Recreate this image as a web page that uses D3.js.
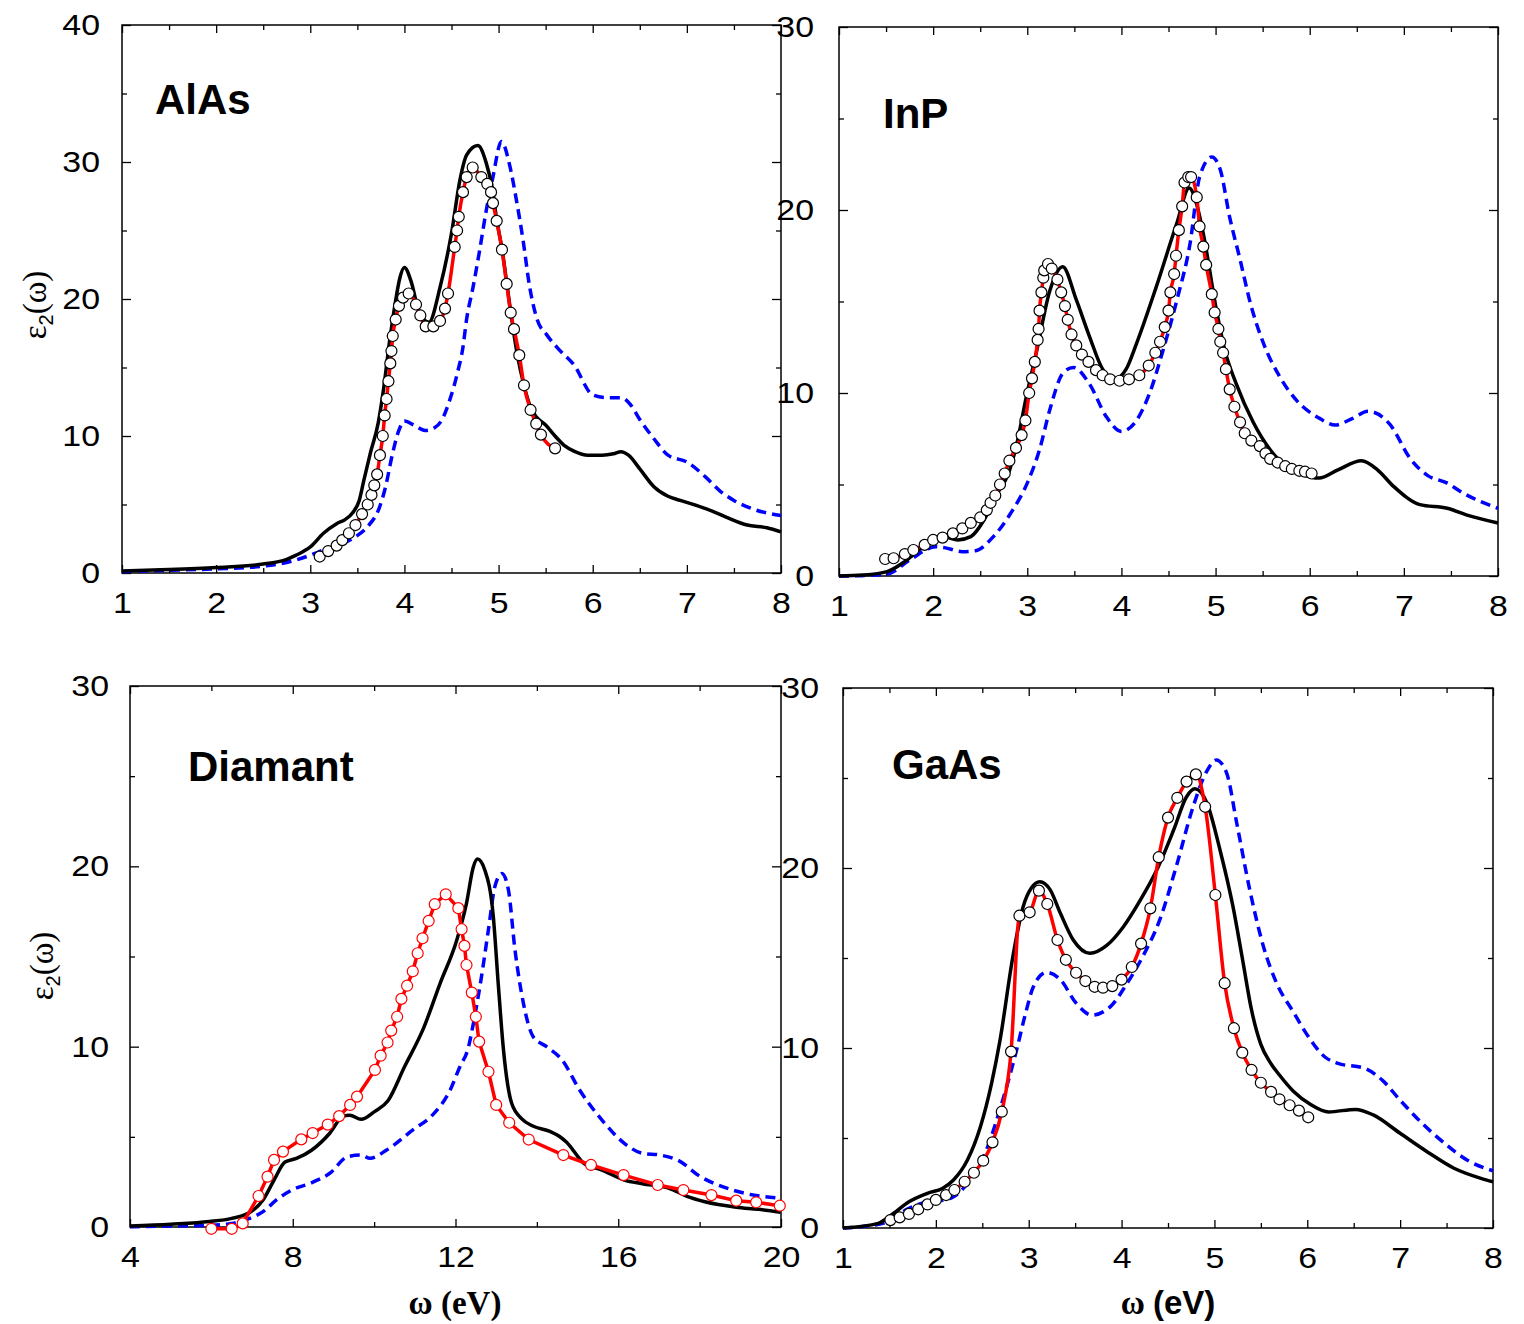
<!DOCTYPE html>
<html><head><meta charset="utf-8">
<script src="https://cdn.jsdelivr.net/npm/d3@7"></script>
<style>
body{margin:0;background:#fff;}
svg{display:block;}
.tick text{font-family:"Liberation Sans",Arial,sans-serif;font-size:30px;fill:#000;}
.tick line{stroke:#000;stroke-width:1.3px;}
</style></head><body>
<script>
// ---- tick values ----
const evTicks = [1, 2, 3, 4, 5, 6, 7, 8];
const evMinor = [1.5, 2.5, 3.5, 4.5, 5.5, 6.5, 7.5];
const diamTicks = [4, 8, 12, 16, 20];
const diamMinor = [6, 10, 14, 18];
const alasYTicks = [0, 10, 20, 30, 40];
const alasYMinor = [5, 15, 25, 35];
const yTicks30 = [0, 10, 20, 30];
const yMinor30 = [5, 15, 25];

// ---- AlAs: [omega (eV), eps2] ----
const alasBlack = [[1,0.15],[1.5,0.25],[2,0.4],[2.5,0.65],[2.75,1.0],[2.85,1.3],[3.0,1.9],[3.14,2.9],[3.28,3.6],[3.37,3.9],[3.45,4.4],[3.52,5.3],[3.57,6.8],[3.64,8.8],[3.72,10.9],[3.78,13.5],[3.84,16.8],[3.9,19.6],[3.95,21.5],[4.0,22.3],[4.07,21.3],[4.15,19.2],[4.26,18.3],[4.38,20.9],[4.5,24.8],[4.59,28.7],[4.66,30.5],[4.78,31.2],[4.87,29.9],[4.93,28.2],[4.98,25.8],[5.04,23.5],[5.09,21.0],[5.13,19.0],[5.2,15.9],[5.27,13.7],[5.34,12.1],[5.4,11.4],[5.5,10.8],[5.6,10.0],[5.7,9.3],[5.8,8.9],[5.95,8.6],[6.1,8.6],[6.22,8.7],[6.3,8.85],[6.38,8.6],[6.5,7.6],[6.65,6.3],[6.8,5.6],[6.93,5.3],[7.2,4.7],[7.41,4.1],[7.64,3.5],[7.85,3.3],[8.0,3.0]];
const alasBlue = [[1,0.1],[1.5,0.2],[2,0.3],[2.5,0.5],[2.85,0.95],[3.0,1.3],[3.15,1.7],[3.33,2.1],[3.47,2.6],[3.61,3.4],[3.73,4.7],[3.8,6.3],[3.87,8.6],[3.94,10.4],[4.0,11.1],[4.1,10.8],[4.22,10.4],[4.32,10.6],[4.4,11.2],[4.48,12.6],[4.57,14.8],[4.62,16.4],[4.66,18.5],[4.73,20.9],[4.8,23.6],[4.87,26.5],[4.94,28.9],[5.03,31.5],[5.12,29.7],[5.19,27.2],[5.26,24.3],[5.33,20.9],[5.41,18.5],[5.51,17.4],[5.63,16.4],[5.8,15.2],[6.0,13.0],[6.15,12.8],[6.3,12.8],[6.4,12.3],[6.5,11.2],[6.65,9.8],[6.8,8.6],[7.0,8.1],[7.2,7.0],[7.35,6.0],[7.5,5.3],[7.69,4.7],[8.0,4.2]];
const alasExp = [[3.10,1.2],[3.19,1.6],[3.28,2.0],[3.34,2.4],[3.41,2.9],[3.48,3.5],[3.55,4.3],[3.61,5.0],[3.65,5.7],[3.68,6.4],[3.71,7.2],[3.74,8.6],[3.77,10.0],[3.79,11.5],[3.81,12.7],[3.83,14.0],[3.85,15.3],[3.862,16.2],[3.876,17.3],[3.907,18.5],[3.942,19.5],[3.985,20.1],[4.045,20.4],[4.123,19.6],[4.169,18.8],[4.226,18.0],[4.307,18.0],[4.378,18.4],[4.431,19.3],[4.463,20.4],[4.534,23.8],[4.559,25.0],[4.577,26.0],[4.622,27.8],[4.661,28.9],[4.725,29.6],[4.817,28.9],[4.88,28.4],[4.92,27.8],[4.941,27.0],[4.98,25.7],[5.036,23.6],[5.086,21.1],[5.129,19.0],[5.164,17.8],[5.22,15.9],[5.27,13.7],[5.34,11.9],[5.40,10.9],[5.45,10.1],[5.6,9.1]];

// ---- InP ----
const inpBlack = [[1,0],[1.25,0.05],[1.51,0.24],[1.7,0.8],[1.89,1.6],[2.05,2.15],[2.15,2.1],[2.26,1.97],[2.4,2.15],[2.54,3.06],[2.68,4.5],[2.8,5.6],[2.89,7.25],[2.99,9.8],[3.1,12.3],[3.24,15.6],[3.376,16.9],[3.52,15.1],[3.66,13.1],[3.8,11.3],[3.93,10.75],[4.05,11.3],[4.16,12.7],[4.37,15.8],[4.59,19.3],[4.72,21.2],[4.8,20.3],[4.87,18.7],[5.01,14.5],[5.1,12.3],[5.22,10.5],[5.4,8.4],[5.58,6.9],[5.75,6.0],[5.9,5.6],[6.1,5.35],[6.3,5.8],[6.55,6.3],[6.72,5.8],[6.89,4.9],[7.17,3.9],[7.46,3.7],[7.69,3.3],[8.0,2.9]];
const inpBlue = [[1,0],[1.25,0.02],[1.51,0.1],[1.75,0.87],[2.03,1.6],[2.12,1.55],[2.31,1.33],[2.45,1.38],[2.64,2.15],[2.82,3.4],[3.01,5.2],[3.13,6.9],[3.24,9.1],[3.38,11.1],[3.49,11.4],[3.66,10.5],[3.84,8.7],[4.0,7.9],[4.16,8.5],[4.3,10.0],[4.44,12.3],[4.59,15.1],[4.73,18.2],[4.83,21.8],[4.96,22.9],[5.05,22.2],[5.15,19.6],[5.26,17.3],[5.37,14.9],[5.51,12.7],[5.68,10.9],[5.86,9.6],[6.11,8.6],[6.27,8.25],[6.45,8.6],[6.62,9.0],[6.85,8.3],[7.07,6.4],[7.25,5.5],[7.45,5.1],[7.64,4.5],[7.8,4.1],[8.0,3.7]];
const inpExp = [[1.49,0.93],[1.58,0.97],[1.70,1.2],[1.79,1.42],[1.91,1.7],[2.00,1.97],[2.10,2.1],[2.21,2.33],[2.31,2.6],[2.40,2.9],[2.50,3.2],[2.57,3.6],[2.61,4.0],[2.66,4.4],[2.71,5.0],[2.76,5.6],[2.81,6.3],[2.88,7.0],[2.94,7.7],[2.98,8.5],[3.02,10.0],[3.05,10.8],[3.08,11.7],[3.11,12.9],[3.12,13.5],[3.13,14.5],[3.15,15.5],[3.17,16.3],[3.18,16.7],[3.22,17.05],[3.26,16.8],[3.32,16.2],[3.36,15.5],[3.40,14.75],[3.43,14.0],[3.47,13.2],[3.52,12.6],[3.58,12.1],[3.65,11.7],[3.73,11.25],[3.80,10.97],[3.88,10.75],[3.98,10.67],[4.08,10.75],[4.19,10.97],[4.29,11.5],[4.36,12.2],[4.41,12.8],[4.46,13.6],[4.50,14.5],[4.52,15.5],[4.56,16.5],[4.58,17.5],[4.61,18.9],[4.645,20.2],[4.67,21.5],[4.71,21.8],[4.74,21.8],[4.80,20.7],[4.83,19.1],[4.87,18.0],[4.90,17.0],[4.96,15.4],[4.99,14.4],[5.03,13.5],[5.05,12.8],[5.08,12.2],[5.11,11.3],[5.15,10.2],[5.20,9.25],[5.26,8.4],[5.31,7.8],[5.38,7.4],[5.47,7.1],[5.53,6.7],[5.58,6.4],[5.66,6.2],[5.74,6.0],[5.81,5.85],[5.89,5.75],[5.95,5.7],[6.02,5.6]];

// ---- Diamant ----
const diamBlack = [[4,0.05],[5,0.15],[5.95,0.3],[6.5,0.48],[6.94,0.8],[7.27,1.5],[7.54,2.6],[7.81,3.6],[8.09,3.8],[8.47,4.27],[8.91,5.2],[9.24,6.15],[9.4,6.2],[9.68,5.97],[10.01,6.4],[10.34,7.0],[10.75,8.9],[11.21,11.0],[11.62,13.5],[12.03,15.9],[12.27,17.95],[12.44,19.98],[12.54,20.4],[12.72,19.8],[12.93,17.2],[13.05,13.5],[13.18,9.8],[13.38,6.86],[13.63,6.0],[13.9,5.6],[14.32,5.3],[14.6,4.95],[14.73,4.7],[15.17,3.5],[15.6,3.16],[16.15,2.6],[16.59,2.4],[17.25,2.15],[17.69,1.7],[18.13,1.4],[18.9,1.1],[19.44,0.98],[19.99,0.82]];
const diamBlue = [[4,0.02],[5,0.05],[6.0,0.1],[6.5,0.2],[6.94,0.48],[7.27,0.85],[7.6,1.5],[7.98,2.05],[8.47,2.46],[8.91,2.98],[9.35,3.9],[9.68,3.99],[9.9,3.81],[10.31,4.27],[10.96,5.4],[11.43,6.2],[11.87,7.6],[12.11,8.9],[12.31,9.9],[12.44,11.3],[12.64,13.9],[12.81,16.5],[12.97,18.9],[13.14,19.6],[13.30,18.7],[13.46,15.4],[13.67,12.4],[13.91,10.55],[14.24,10.0],[14.62,9.26],[15.05,7.6],[15.6,5.93],[16.15,4.64],[16.59,4.09],[17.03,3.99],[17.47,3.7],[18.02,2.79],[18.56,2.24],[19.11,1.87],[19.99,1.59]];
const diamExp = [[6.0,-0.1],[6.5,-0.1],[6.77,0.2],[7.16,1.72],[7.38,2.79],[7.54,3.72],[7.76,4.18],[8.21,4.86],[8.49,5.21],[8.86,5.68],[9.14,6.15],[9.41,6.77],[9.58,7.23],[10.02,8.71],[10.16,9.5],[10.33,10.23],[10.42,10.89],[10.565,11.66],[10.67,12.65],[10.81,13.38],[10.95,14.18],[11.07,15.18],[11.19,16.01],[11.34,16.97],[11.49,17.9],[11.76,18.45],[12.07,17.68],[12.15,16.51],[12.22,15.59],[12.27,14.53],[12.40,13.0],[12.50,11.66],[12.58,10.28],[12.81,8.61],[13.00,6.77],[13.32,5.78],[13.80,4.85],[14.65,3.99],[15.33,3.44],[16.13,2.88],[16.97,2.33],[17.60,2.05],[18.29,1.77],[18.90,1.46],[19.39,1.37],[19.97,1.18]];

// ---- GaAs ----
const gaasBlack = [[1,0],[1.38,0.26],[1.52,0.72],[1.71,1.46],[1.91,1.93],[2.07,2.2],[2.19,2.67],[2.34,3.78],[2.48,5.63],[2.6,8.04],[2.69,10.4],[2.83,15.1],[2.94,17.85],[3.03,18.9],[3.12,19.24],[3.23,18.8],[3.34,17.5],[3.48,16.0],[3.66,15.26],[3.84,15.7],[4.02,16.74],[4.2,18.2],[4.38,19.9],[4.56,22.1],[4.7,23.96],[4.79,24.4],[4.92,23.6],[5.06,21.0],[5.2,17.85],[5.3,15.0],[5.4,12.1],[5.5,10.2],[5.6,9.2],[5.7,8.5],[5.85,7.6],[6.04,6.85],[6.23,6.45],[6.52,6.59],[6.71,6.28],[7.0,5.26],[7.29,4.24],[7.58,3.32],[7.87,2.76],[8.0,2.57]];
const gaasBlue = [[1,0],[1.43,0.26],[1.71,1.09],[1.91,1.46],[2.1,1.56],[2.19,1.74],[2.34,2.48],[2.53,4.15],[2.72,7.1],[2.87,9.9],[2.96,11.8],[3.05,13.4],[3.19,14.2],[3.34,13.8],[3.51,12.5],[3.68,11.83],[3.88,12.3],[4.06,13.6],[4.23,15.1],[4.41,17.1],[4.59,20.1],[4.77,23.4],[4.92,25.4],[5.02,26.0],[5.13,25.3],[5.24,22.5],[5.38,18.8],[5.53,15.6],[5.67,13.6],[5.85,12.0],[5.99,10.8],[6.19,9.5],[6.33,9.15],[6.62,8.87],[6.81,8.2],[7.0,7.1],[7.24,5.8],[7.48,4.7],[7.72,3.78],[8.0,3.18]];
const gaasExp = [[1.51,0.44],[1.61,0.59],[1.71,0.78],[1.81,1.04],[1.91,1.31],[2.0,1.56],[2.11,1.83],[2.2,2.11],[2.31,2.57],[2.41,3.07],[2.51,3.74],[2.61,4.76],[2.71,6.46],[2.81,9.8],[2.90,17.35],[3.01,17.54],[3.11,18.74],[3.20,18.0],[3.31,16.0],[3.40,14.9],[3.51,14.18],[3.61,13.72],[3.71,13.4],[3.80,13.35],[3.90,13.44],[4.00,13.8],[4.11,14.5],[4.21,15.8],[4.31,17.76],[4.40,20.6],[4.50,22.8],[4.60,23.9],[4.70,24.8],[4.80,25.2],[4.90,23.4],[5.01,18.5],[5.11,13.6],[5.21,11.1],[5.30,9.74],[5.40,8.78],[5.50,8.07],[5.61,7.56],[5.70,7.15],[5.81,6.82],[5.91,6.52],[6.01,6.15]];

const svg = d3.select('body').append('svg').attr('width', 1524).attr('height', 1324);

// tick numbers are drawn slightly widened
const LABEL_STRETCH = 1.13;

const panels = [
  {title:'AlAs', black:alasBlack, blue:alasBlue, exp:alasExp, xDom:[1,8], yDom:[0,40],
   xMajor:evTicks, xMinor:evMinor, yMajor:alasYTicks, yMinor:alasYMinor,
   left:122, right:781, top:25, bottom:573, yPad:22, titlePos:[155,114],
   ylab:[46,305], expMarker:'#000', expCurve:d3.curveMonotoneX},
  {title:'InP', black:inpBlack, blue:inpBlue, exp:inpExp, xDom:[1,8], yDom:[0,30],
   xMajor:evTicks, xMinor:evMinor, yMajor:yTicks30, yMinor:yMinor30,
   left:839, right:1498, top:27, bottom:576, yPad:25, titlePos:[883,128],
   ylab:null, expMarker:'#000', expCurve:d3.curveMonotoneX},
  {title:'Diamant', black:diamBlack, blue:diamBlue, exp:diamExp, xDom:[4,20], yDom:[0,30],
   xMajor:diamTicks, xMinor:diamMinor, yMajor:yTicks30, yMinor:yMinor30,
   left:130, right:781, top:686, bottom:1227, yPad:21, titlePos:[188,781],
   ylab:[53,966], expMarker:'#ff0000', expCurve:d3.curveLinear, xtitle:[455,1314,true]},
  {title:'GaAs', black:gaasBlack, blue:gaasBlue, exp:gaasExp, xDom:[1,8], yDom:[0,30],
   xMajor:evTicks, xMinor:evMinor, yMajor:yTicks30, yMinor:yMinor30,
   left:843, right:1493, top:688, bottom:1228, yPad:24, titlePos:[892,779],
   ylab:null, expMarker:'#000', expCurve:d3.curveMonotoneX, xtitle:[1168,1314,false]}
];

function stripDomain(sel) { sel.select('.domain').remove(); }
function stretch(sel) { sel.selectAll('.tick text').attr('transform', `scale(${LABEL_STRETCH},1)`); }

panels.forEach(p => {
  const x = d3.scaleLinear().domain(p.xDom).range([p.left, p.right]);
  const y = d3.scaleLinear().domain(p.yDom).range([p.bottom, p.top]);
  const g = svg.append('g');

  // inward ticks on all four sides
  g.append('g').attr('transform', `translate(0,${p.bottom})`)
    .call(d3.axisBottom(x).tickValues(p.xMajor).tickSize(-8).tickSizeOuter(0).tickPadding(19).tickFormat(d3.format('d')))
    .call(stripDomain).call(stretch);
  g.append('g').attr('transform', `translate(0,${p.bottom})`)
    .call(d3.axisBottom(x).tickValues(p.xMinor).tickSize(-5).tickSizeOuter(0).tickFormat(''))
    .call(stripDomain);
  g.append('g').attr('transform', `translate(0,${p.top})`)
    .call(d3.axisTop(x).tickValues(p.xMajor).tickSize(-8).tickSizeOuter(0).tickFormat(''))
    .call(stripDomain);
  g.append('g').attr('transform', `translate(0,${p.top})`)
    .call(d3.axisTop(x).tickValues(p.xMinor).tickSize(-5).tickSizeOuter(0).tickFormat(''))
    .call(stripDomain);
  g.append('g').attr('transform', `translate(${p.left},0)`)
    .call(d3.axisLeft(y).tickValues(p.yMajor).tickSize(-9).tickSizeOuter(0).tickPadding(p.yPad / LABEL_STRETCH).tickFormat(d3.format('d')))
    .call(stripDomain).call(stretch);
  g.append('g').attr('transform', `translate(${p.left},0)`)
    .call(d3.axisLeft(y).tickValues(p.yMinor).tickSize(-5).tickSizeOuter(0).tickFormat(''))
    .call(stripDomain);
  g.append('g').attr('transform', `translate(${p.right},0)`)
    .call(d3.axisRight(y).tickValues(p.yMajor).tickSize(-9).tickSizeOuter(0).tickFormat(''))
    .call(stripDomain);
  g.append('g').attr('transform', `translate(${p.right},0)`)
    .call(d3.axisRight(y).tickValues(p.yMinor).tickSize(-5).tickSizeOuter(0).tickFormat(''))
    .call(stripDomain);

  g.append('rect').attr('x', p.left).attr('y', p.top)
    .attr('width', p.right - p.left).attr('height', p.bottom - p.top)
    .attr('fill', 'none').attr('stroke', '#000').attr('stroke-width', 1.5);

  const smooth = d3.line().x(d => x(d[0])).y(d => y(d[1])).curve(d3.curveMonotoneX);
  const expLine = d3.line().x(d => x(d[0])).y(d => y(d[1])).curve(p.expCurve);

  g.append('path').datum(p.blue).attr('d', smooth)
    .attr('fill', 'none').attr('stroke', '#0000ff').attr('stroke-width', 3.5)
    .attr('stroke-dasharray', '10,6');
  g.append('path').datum(p.black).attr('d', smooth)
    .attr('fill', 'none').attr('stroke', '#000').attr('stroke-width', 3.5);
  g.append('path').datum(p.exp).attr('d', expLine)
    .attr('fill', 'none').attr('stroke', '#ff0000').attr('stroke-width', 3.5);
  g.append('g').selectAll('circle').data(p.exp).join('circle')
    .attr('cx', d => x(d[0])).attr('cy', d => y(d[1])).attr('r', 5.5)
    .attr('fill', '#fff').attr('stroke', p.expMarker).attr('stroke-width', 1.2);

  g.append('text').attr('x', p.titlePos[0]).attr('y', p.titlePos[1])
    .attr('font-family', '"Liberation Sans", Arial, sans-serif').attr('font-weight', 'bold')
    .attr('font-size', 42).text(p.title);

  if (p.ylab) {
    const t = g.append('text')
      .attr('transform', `translate(${p.ylab[0]},${p.ylab[1]}) rotate(-90)`)
      .attr('text-anchor', 'middle')
      .attr('font-family', '"Liberation Serif", "Times New Roman", serif').attr('font-size', 33);
    t.append('tspan').text('ε');
    t.append('tspan').attr('dy', 7).attr('font-size', 20)
      .attr('font-family', '"Liberation Sans", Arial, sans-serif').text('2');
    t.append('tspan').attr('dy', -7).text('(ω)');
  }

  if (p.xtitle) {
    const t = g.append('text').attr('x', p.xtitle[0]).attr('y', p.xtitle[1])
      .attr('text-anchor', 'middle').attr('font-weight', 'bold').attr('font-size', 33)
      .attr('font-family', '"Liberation Serif", "Times New Roman", serif');
    t.append('tspan').text('ω ');
    t.append('tspan')
      .attr('font-family', p.xtitle[2] ? '"Liberation Serif", serif' : '"Liberation Sans", Arial, sans-serif')
      .text('(eV)');
  }
});
</script>
</body></html>
